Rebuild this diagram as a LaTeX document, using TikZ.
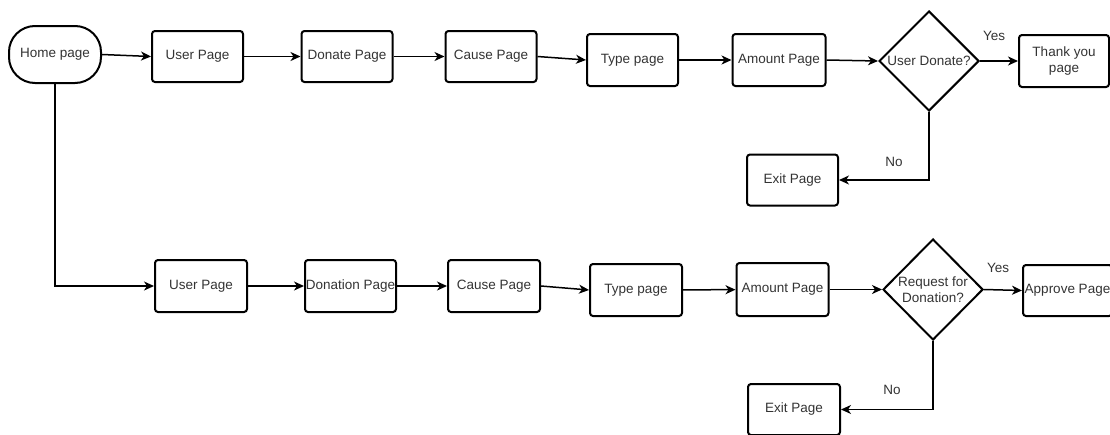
\documentclass[tikz,border=0pt]{standalone}
\usepackage{fontspec}
\setmainfont{Liberation Sans}
\usetikzlibrary{shapes.geometric,arrows.meta}
\begin{document}
\begin{tikzpicture}[x=1pt,y=-1pt,
  every node/.style={font=\fontsize{13.5}{15.5}\selectfont, text=black!80},
  page/.style={draw=black, line width=2pt, rounded corners=3pt, inner sep=0pt,
    minimum width=91pt, minimum height=51pt, align=center},
  start/.style={draw=black, line width=2pt, rounded corners=26pt, inner sep=0pt,
    minimum width=92pt, minimum height=57pt},
  decision/.style={draw=black, line width=2pt, diamond, inner sep=0pt,
    minimum width=100pt, minimum height=100pt},
  flow/.style={line width=1.5pt, -{Stealth[length=10pt,width=9pt,inset=3pt]}},
  lbl/.style={inner sep=0pt}]
\useasboundingbox (0,0) rectangle (1110,434);

% first row: donating path
\node[start] (home) at (55,54.5) {Home page};
\node[page] (user1) at (197.5,56.5) {User Page};
\node[page] (donate) at (347,56.5) {Donate Page};
\node[page] (cause1) at (491,56.5) {Cause Page};
\node[page, minimum height=52pt] (type1) at (632.5,60) {Type page};
\node[page, minimum width=93pt, minimum height=52pt] (amount1) at (779,60) {Amount Page};
\node[decision] (dec1) at (929,61) {};
\node[lbl] at (dec1) {User Donate?};
\node[page, minimum width=90pt, minimum height=52pt] (thank) at (1064,61) {Thank you\\page};
\node[page] (exit1) at (792.5,180) {Exit Page};
\node[lbl] (yes1) at (994,36) {Yes};
\node[lbl] (no1) at (894,162) {No};

% second row: requesting path
\node[page, minimum width=92pt, minimum height=52pt] (user2) at (201,286) {User Page};
\node[page, minimum height=52pt] (donation) at (350.5,286) {Donation Page};
\node[page, minimum width=92pt, minimum height=52pt] (cause2) at (494,286) {Cause Page};
\node[page, minimum width=92pt, minimum height=52pt] (type2) at (636,290) {Type page};
\node[page, minimum width=92pt, minimum height=53pt] (amount2) at (782.5,289.5) {Amount Page};
\node[decision, minimum height=101pt] (dec2) at (933,289.5) {};
\node[lbl, align=center] at (dec2) {Request for\\Donation?};
\node[page, minimum width=89pt] (approve) at (1067.5,290.5) {Approve Page};
\node[page, minimum width=92pt] (exit2) at (794,409.5) {Exit Page};
\node[lbl] (yes2) at (998,268) {Yes};
\node[lbl] (no2) at (892,390) {No};

% connectors
\draw[flow] (home.east) -- (user1.west);
\draw[flow] (user1) -- (donate);
\draw[flow] (donate) -- (cause1);
\draw[flow] (cause1.east) -- (type1.west);
\draw[flow] (type1) -- (amount1);
\draw[flow] (amount1.east) -- (dec1.west);
\draw[flow] (dec1.east) -- (thank.west);
\draw[flow] (dec1.south) |- (exit1.east);

\draw[flow] (home.south) |- (user2.west);
\draw[flow] (user2) -- (donation);
\draw[flow] (donation) -- (cause2);
\draw[flow] (cause2.east) -- (type2.west);
\draw[flow] (type2) -- (amount2);
\draw[flow] (amount2.east) -- (dec2.west);
\draw[flow] (dec2.east) -- (approve.west);
\draw[flow] (dec2.south) |- (exit2.east);
\end{tikzpicture}
\end{document}
